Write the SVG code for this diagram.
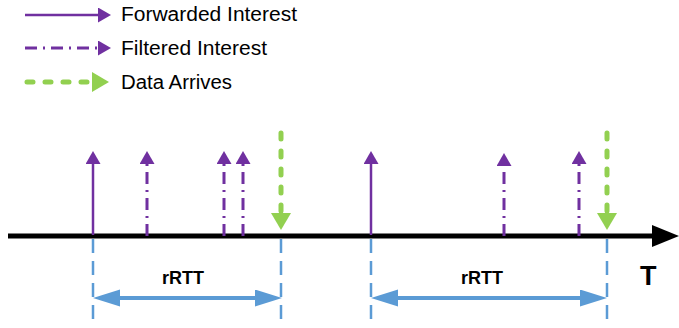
<svg xmlns="http://www.w3.org/2000/svg" width="679" height="328" viewBox="0 0 679 328">
<style>
.txt{font-family:"Liberation Sans",Arial,sans-serif;fill:#000}
.leg{font-size:20px}
.lbl{font-size:18px;font-weight:bold}
.fwd{stroke:#7030A0;stroke-width:2.5;fill:none}
.flt{stroke:#7030A0;stroke-width:3;fill:none;stroke-dasharray:12 6 2 6}
.dat{stroke:#92D050;stroke-width:5;fill:none;stroke-dasharray:6 12;stroke-linecap:round}
.tick{stroke:#5B9BD5;stroke-width:2.5;fill:none;stroke-dasharray:14 8}
.span{stroke:#5B9BD5;stroke-width:4;fill:none}
</style>
<defs>
<marker id="mP" markerUnits="userSpaceOnUse" markerWidth="14" markerHeight="16" refX="0" refY="7.5" orient="auto"><path d="M0,0 L13,7.5 L0,15 z" fill="#7030A0"/></marker>
<marker id="mG" markerUnits="userSpaceOnUse" markerWidth="18" markerHeight="21" refX="0" refY="10" orient="auto"><path d="M0,0 L17,10 L0,20 z" fill="#92D050"/></marker>
<marker id="mB" markerUnits="userSpaceOnUse" markerWidth="28" markerHeight="18" refX="0" refY="8.5" orient="auto-start-reverse"><path d="M0,0 L27,8.5 L0,17 z" fill="#5B9BD5"/></marker>
</defs>
<g id="legend">
<line class="fwd" x1="25" y1="15" x2="98" y2="15" marker-end="url(#mP)"/>
<text class="txt leg" x="121" y="21" textLength="176" lengthAdjust="spacingAndGlyphs">Forwarded Interest</text>
<line class="flt" x1="25" y1="48" x2="98" y2="48" marker-end="url(#mP)"/>
<text class="txt leg" x="121" y="55" textLength="146" lengthAdjust="spacingAndGlyphs">Filtered Interest</text>
<line class="dat" x1="27" y1="82" x2="92" y2="82" marker-end="url(#mG)"/>
<text class="txt leg" x="121" y="89" textLength="111" lengthAdjust="spacingAndGlyphs">Data Arrives</text>
</g>
<g id="timeline">
<line x1="8" y1="236" x2="654" y2="236" stroke="#000" stroke-width="5"/>
<polygon points="652,225 679,236 652,247" fill="#000"/>
<text class="txt" x="640" y="285" font-size="27" font-weight="bold">T</text>
</g>
<g id="connectors">
<line class="fwd" x1="93" y1="235" x2="93" y2="164" marker-end="url(#mP)"/>
<line class="flt" x1="147" y1="236" x2="147" y2="164" marker-end="url(#mP)"/>
<line class="flt" x1="224" y1="236" x2="224" y2="164" marker-end="url(#mP)"/>
<line class="flt" x1="243" y1="236" x2="243" y2="164" marker-end="url(#mP)"/>
<line class="dat" x1="281" y1="133" x2="281" y2="213" marker-end="url(#mG)"/>
<line class="fwd" x1="371" y1="235" x2="371" y2="164" marker-end="url(#mP)"/>
<line class="flt" x1="504" y1="236" x2="504" y2="166" marker-end="url(#mP)"/>
<line class="flt" x1="579" y1="236" x2="579" y2="164" marker-end="url(#mP)"/>
<line class="dat" x1="607" y1="133" x2="607" y2="213" marker-end="url(#mG)"/>
</g>
<g id="rtt1">
<line class="tick" x1="93" y1="239" x2="93" y2="322"/>
<line class="tick" x1="281" y1="239" x2="281" y2="322"/>
<line class="span" x1="120" y1="298" x2="255" y2="298" marker-start="url(#mB)" marker-end="url(#mB)"/>
<text class="txt lbl" x="183" y="284" text-anchor="middle">rRTT</text>
</g>
<g id="rtt2">
<line class="tick" x1="371" y1="239" x2="371" y2="322"/>
<line class="tick" x1="607" y1="239" x2="607" y2="322"/>
<line class="span" x1="398" y1="298" x2="580" y2="298" marker-start="url(#mB)" marker-end="url(#mB)"/>
<text class="txt lbl" x="482" y="284" text-anchor="middle">rRTT</text>
</g>
</svg>
